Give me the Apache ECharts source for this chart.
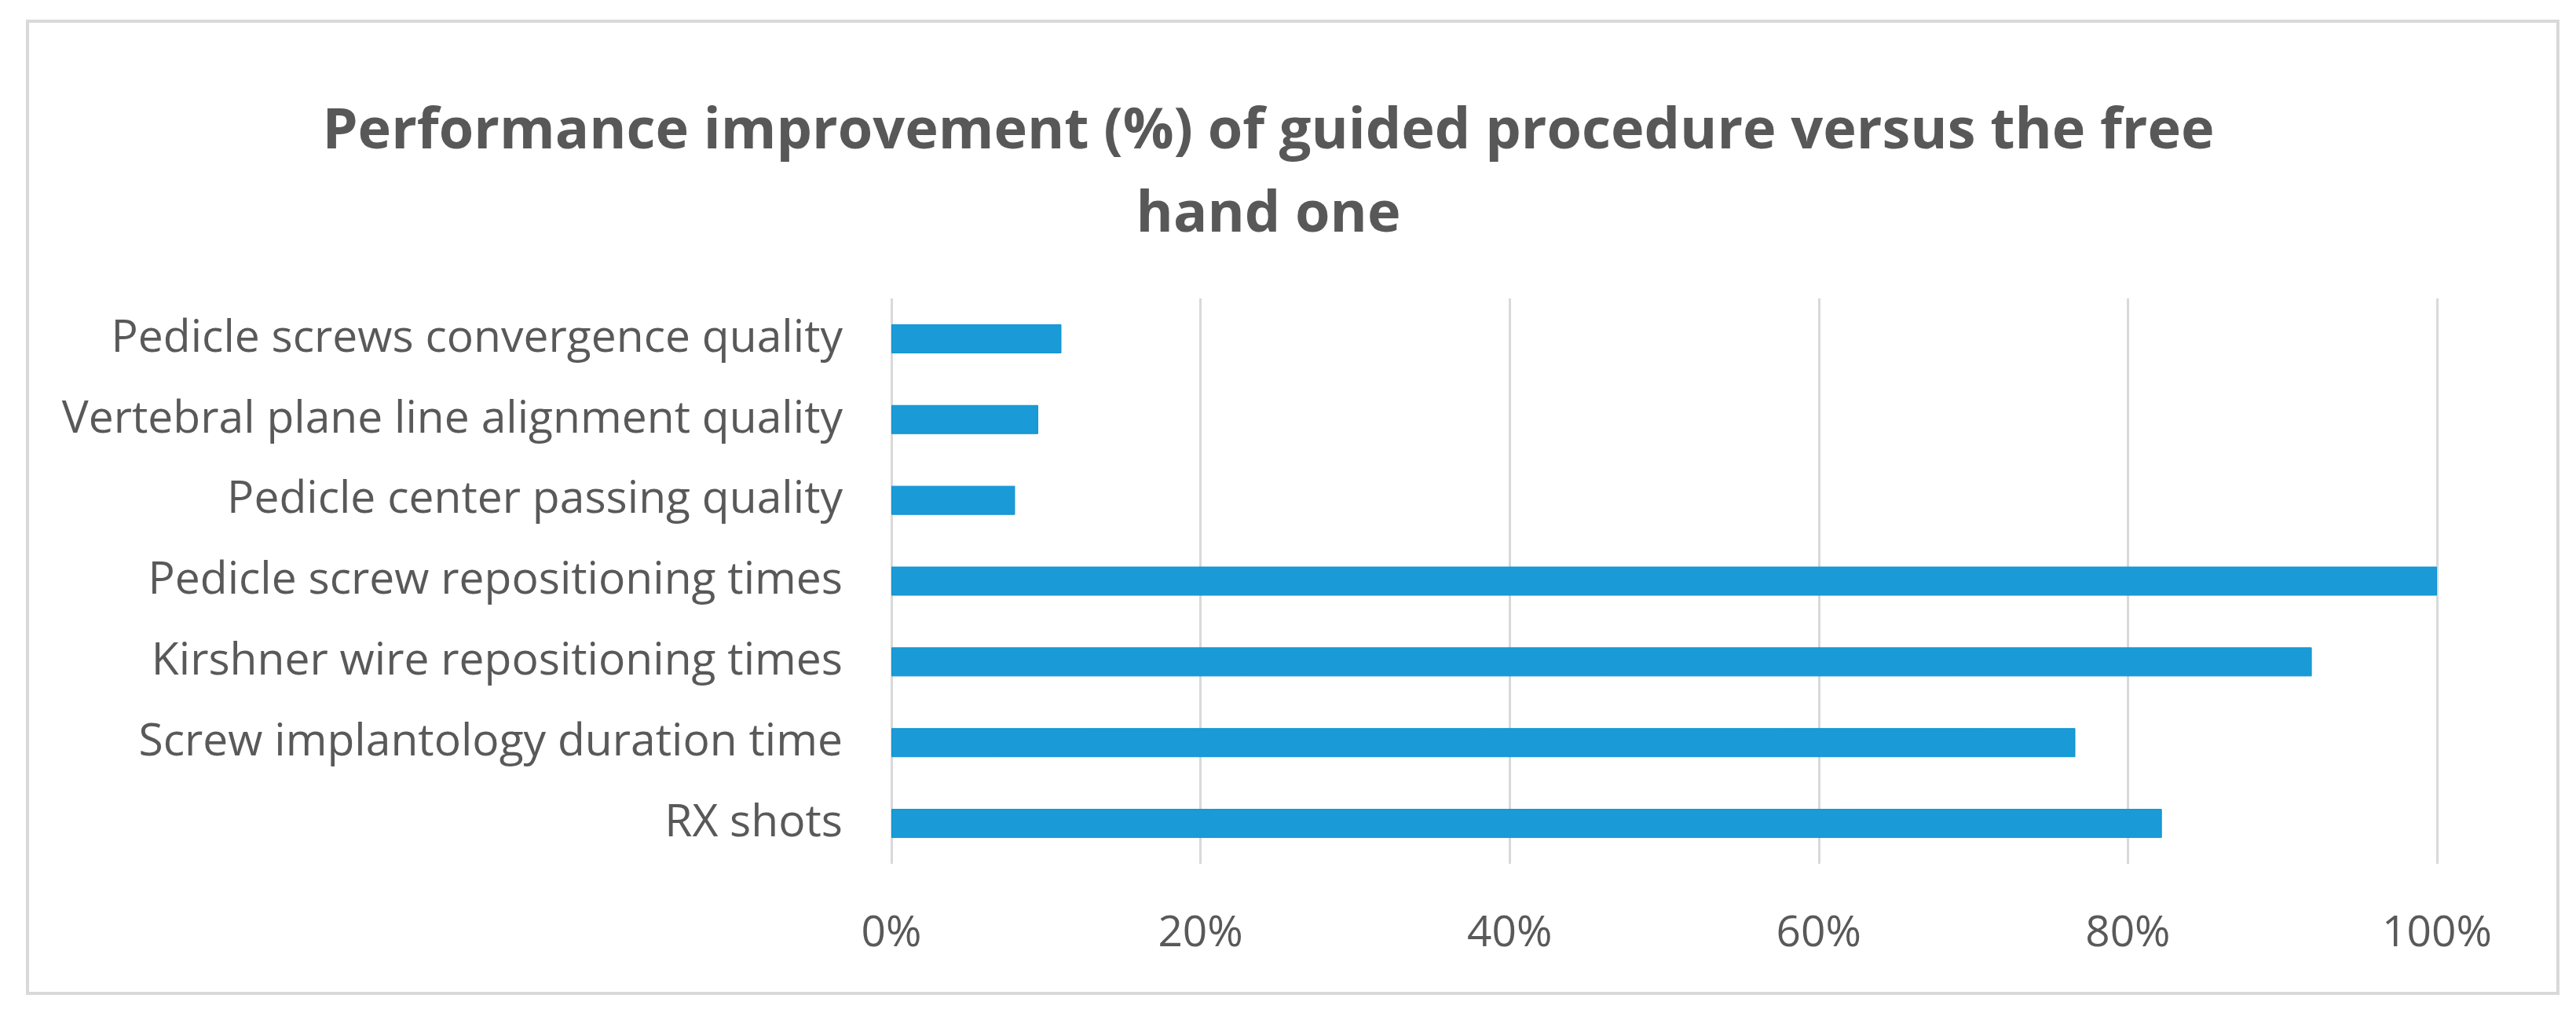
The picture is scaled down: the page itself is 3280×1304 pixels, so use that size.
<!DOCTYPE html>
<html>
<head>
<meta charset="utf-8">
<script src="https://cdn.jsdelivr.net/npm/echarts@6/dist/echarts.min.js"></script>
<style>
html,body{margin:0;padding:0;background:#fff;}
#chart{width:3280px;height:1304px;}
</style>
</head>
<body>
<div id="chart"></div>
<script>
// Data (bottom to top as drawn on the category axis)
const categories = [
  'RX shots',
  'Screw implantology duration time',
  'Kirshner wire repositioning times',
  'Pedicle screw repositioning times',
  'Pedicle center passing quality',
  'Vertebral plane line alignment quality',
  'Pedicle screws convergence quality'
];
const improvement = [82.2, 76.6, 91.9, 100, 8.0, 9.5, 11.0];
const titleText = 'Performance improvement (%) of guided procedure versus the free\nhand one';

const chart = echarts.init(document.getElementById('chart'));
chart.setOption({
  backgroundColor: '#ffffff',
  animation: false,
  title: {
    text: titleText,
    left: 1610,
    top: 110,
    textAlign: 'center',
    textStyle: {
      fontFamily: 'Open Sans',
      fontWeight: 'bold',
      fontSize: 72,
      lineHeight: 106,
      color: '#585858'
    }
  },
  graphic: [{
    type: 'rect',
    shape: {x: 35, y: 27, width: 3222, height: 1238},
    style: {fill: 'none', stroke: '#d9d9d9', lineWidth: 4},
    silent: true
  }],
  grid: {left: 1135, right: 177, top: 380, bottom: 204, containLabel: false},
  xAxis: {
    type: 'value',
    min: 0,
    max: 100,
    interval: 20,
    axisLine: {show: false},
    axisTick: {show: false},
    axisLabel: {
      formatter: '{value}%',
      fontFamily: 'Open Sans',
      fontSize: 55,
      color: '#595959',
      margin: 62
    },
    splitLine: {show: true, lineStyle: {color: '#d9d9d9', width: 3}}
  },
  yAxis: {
    type: 'category',
    data: categories,
    axisLine: {show: false},
    axisTick: {show: false},
    axisLabel: {
      fontFamily: 'Open Sans',
      fontSize: 57,
      color: '#595959',
      margin: 62
    }
  },
  series: [{
    type: 'bar',
    data: improvement,
    barWidth: 37,
    itemStyle: {color: '#1a9ad6', borderColor: '#0f93d4', borderWidth: 1}
  }]
});
</script>
</body>
</html>
